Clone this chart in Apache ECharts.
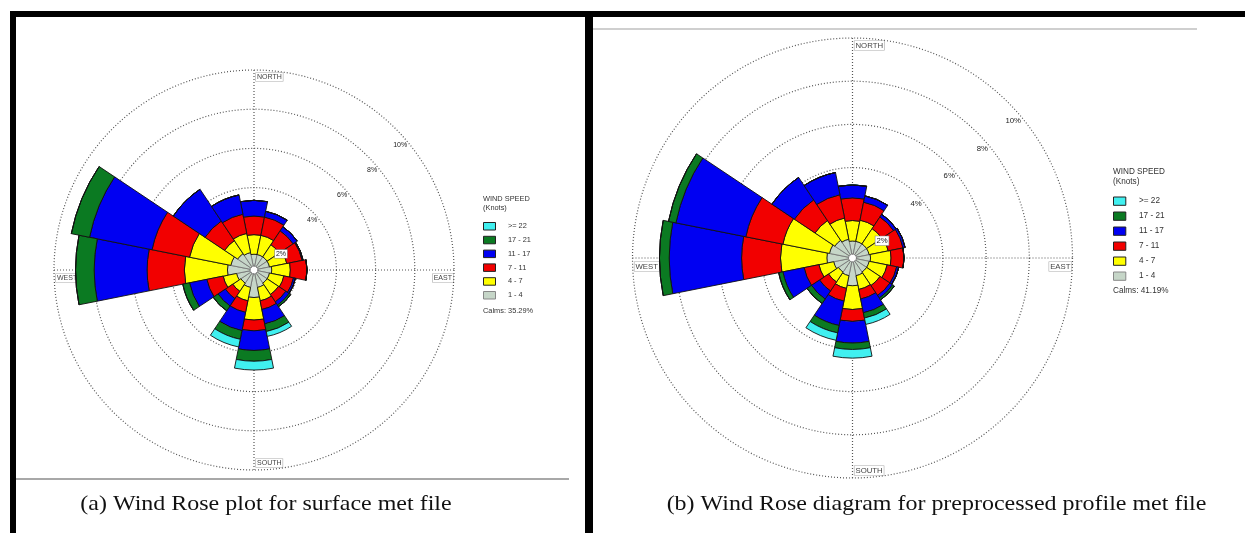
<!DOCTYPE html>
<html>
<head>
<meta charset="utf-8">
<title>Wind Rose</title>
<script src="https://cdn.jsdelivr.net/npm/echarts@6.0.0/dist/echarts.min.js"></script>
<style>
  html, body { margin: 0; padding: 0; background: #fff; }
  #chart { width: 1245px; height: 533px; }
</style>
</head>
<body>
<div id="chart"></div>
<script>
// categories
const directions = ["N", "NNE", "NE", "ENE", "E", "ESE", "SE", "SSE", "S", "SSW", "SW", "WSW", "W", "WNW", "NW", "NNW"];
const speedBins = ["1 - 4", "4 - 7", "7 - 11", "11 - 17", "17 - 21", ">= 22"];
const compassLabels = ["NORTH", "EAST", "SOUTH", "WEST"];
const ringMax = 10;
const ringStep = 2;

// (a) surface met file, frequency (%) per direction and speed class
const surf_1_4   = [0.6, 0.6, 0.6, 0.6, 0.7, 0.6, 0.6, 0.7, 1.2, 0.7, 0.6, 0.7, 1.15, 1.0, 0.8, 0.7];
const surf_4_7   = [1.0, 1.0, 0.75, 0.9, 0.95, 0.75, 0.7, 0.7, 1.15, 0.7, 0.5, 0.7, 2.2, 2.15, 0.8, 1.0];
const surf_7_11  = [0.95, 0.95, 0.85, 0.8, 0.85, 0.5, 0.45, 0.45, 0.55, 0.6, 0.45, 0.85, 1.9, 1.95, 1.2, 1.0];
const surf_11_17 = [0.8, 0.3, 0.25, 0.05, 0, 0.1, 0.2, 0.75, 1.0, 0.95, 0.45, 0.9, 2.7, 3.25, 1.95, 1.0];
const surf_17_21 = [0, 0, 0, 0, 0, 0, 0.1, 0.4, 0.55, 0.45, 0.3, 0.35, 0.95, 0.95, 0, 0];
const surf_22    = [0, 0, 0, 0, 0, 0, 0, 0.25, 0.45, 0.4, 0, 0, 0, 0, 0, 0];
const surfCalms = "35.29%";

// (b) preprocessed profile met file
const prof_1_4   = [0.6, 0.6, 0.6, 0.6, 0.65, 0.6, 0.6, 0.65, 1.1, 0.65, 0.6, 0.7, 1.0, 0.9, 0.8, 0.7];
const prof_4_7   = [0.95, 1.0, 0.85, 0.9, 0.95, 0.85, 0.75, 0.65, 1.1, 0.6, 0.55, 0.7, 2.15, 2.2, 1.1, 1.0];
const prof_7_11  = [1.05, 0.85, 0.65, 0.7, 0.6, 0.45, 0.55, 0.45, 0.55, 0.6, 0.5, 0.7, 1.8, 1.75, 1.15, 1.1];
const prof_11_17 = [0.6, 0.3, 0.15, 0.1, 0, 0.1, 0.15, 0.65, 1.0, 1.15, 0.45, 1.0, 3.35, 3.3, 1.25, 1.05];
const prof_17_21 = [0, 0, 0, 0, 0, 0, 0.1, 0.25, 0.3, 0.35, 0.25, 0.2, 0.45, 0.35, 0, 0];
const prof_22    = [0, 0, 0, 0, 0, 0, 0, 0.3, 0.4, 0.35, 0, 0, 0, 0, 0, 0];
const profCalms = "41.19%";

const binColors = ["#c6d6c8", "#ffff00", "#f20000", "#0000f2", "#0b7a22", "#40f0f0"];
const binBorders = ["#777", "#111", "#111", "#111", "#111", "#111"];

const A = { cx: 254, cy: 270, r: 200, font: 7.4, legendX: 483, legendY: 222, rowGap: 5.3, box: [12, 7.5], titleY: 199, calmsY: 311 };
const B = { cx: 852.5, cy: 258, r: 220, font: 8.2, legendX: 1113, legendY: 196.5, rowGap: 5.7, box: [12.3, 8.3], titleY: 172, calmsY: 291 };

const dotted = { color: "#555", width: 1.2, type: [1, 2] };

function polars(L) {
  return [0, 1, 2].map(() => ({ center: [L.cx, L.cy], radius: [4, L.r] }));
}

function angleAxes(L, base) {
  return [
    // wind direction sectors, north on top
    {
      polarIndex: base, type: "category", data: directions, startAngle: 90 + 11.25,
      clockwise: true, boundaryGap: true,
      axisLine: { show: false }, axisTick: { show: false }, axisLabel: { show: false }, splitLine: { show: false },
    },
    // N-S / E-W cross
    {
      polarIndex: base + 1, type: "value", min: 0, max: 360, interval: 90, startAngle: 90,
      axisLine: { show: false }, axisTick: { show: false }, axisLabel: { show: false },
      splitLine: { show: true, lineStyle: dotted },
    },
    { polarIndex: base + 2, type: "value", min: 0, max: 360, startAngle: 40, show: false },
  ];
}

function radiusAxes(L, base) {
  const fs = L.font * 0.95;
  return [
    {
      polarIndex: base, type: "value", min: 0, max: ringMax, interval: ringStep,
      axisLine: { show: false }, axisTick: { show: false }, axisLabel: { show: false },
      splitLine: { show: true, lineStyle: dotted },
    },
    { polarIndex: base + 1, type: "value", min: 0, max: ringMax, show: false },
    {
      polarIndex: base + 2, type: "value", min: 0, max: ringMax, interval: ringStep, z: 10,
      axisLine: { show: false }, axisTick: { show: false }, splitLine: { show: false },
      axisLabel: {
        margin: 0, align: "right", verticalAlign: "top",
        fontFamily: "Liberation Sans", fontSize: fs, color: "#222",
        // the innermost label sits a little lower, boxed, over the bars
        formatter: (v) => (v === 0 ? "" : v === ringStep ? "{sp| }\n{box|" + v + "%}" : v + "%"),
        rich: {
          sp: { fontSize: 1, lineHeight: fs * 1.1 },
          box: {
            fontFamily: "Liberation Sans", fontSize: fs, color: "#222",
            backgroundColor: "#fff", borderColor: "#888", borderWidth: 0.6, padding: [1, 1, 0, 1],
          },
        },
      },
    },
  ];
}

function roseSeries(polarIndex, stack, bins) {
  return bins.map((vals, k) => ({
    name: speedBins[k],
    type: "bar",
    coordinateSystem: "polar",
    polarIndex: polarIndex,
    stack: stack,
    barCategoryGap: "0%",
    data: vals,
    itemStyle: { color: binColors[k], borderColor: binBorders[k], borderWidth: 0.9 },
    emphasis: { disabled: true },
  }));
}

function legendFor(L) {
  return {
    orient: "vertical",
    left: L.legendX,
    top: L.legendY,
    padding: 0,
    itemWidth: L.box[0],
    itemHeight: L.box[1],
    itemGap: L.rowGap,
    selectedMode: false,
    icon: "rect",
    textStyle: { fontFamily: "Liberation Sans", fontSize: L.font, color: "#333", padding: [0, 0, 0, L.font] },
    data: speedBins.slice().reverse().map((n) => ({
      name: n,
      itemStyle: { borderColor: n === "1 - 4" ? "#888" : "#222", borderWidth: 1 },
    })),
  };
}

function compassText(L) {
  const base = {
    fill: "#444", font: L.font * 0.95 + "px 'Liberation Sans'",
    backgroundColor: "#fff", borderColor: "#aaa", borderWidth: 0.6, padding: [1, 1, 0, 1],
  };
  return [
    { type: "text", x: L.cx + 2, y: L.cy - L.r + 3, style: Object.assign({ text: compassLabels[0], textAlign: "left", textVerticalAlign: "top" }, base) },
    { type: "text", x: L.cx + L.r - 1, y: L.cy + 4, style: Object.assign({ text: compassLabels[1], textAlign: "right", textVerticalAlign: "top" }, base) },
    { type: "text", x: L.cx + 2, y: L.cy + L.r - 3, style: Object.assign({ text: compassLabels[2], textAlign: "left", textVerticalAlign: "bottom" }, base) },
    { type: "text", x: L.cx - L.r + 2, y: L.cy + 4, style: Object.assign({ text: compassLabels[3], textAlign: "left", textVerticalAlign: "top" }, base) },
  ];
}

function legendTexts(L, calms) {
  const st = (t) => ({ text: t, fill: "#333", font: L.font + "px 'Liberation Sans'", textVerticalAlign: "middle" });
  return [
    { type: "text", x: L.legendX, y: L.titleY, style: st("WIND SPEED") },
    { type: "text", x: L.legendX, y: L.titleY + L.font * 1.15, style: st("(Knots)") },
    { type: "text", x: L.legendX, y: L.calmsY, style: st("Calms: " + calms) },
  ];
}

const frame = [
  { type: "rect", shape: { x: 10, y: 11, width: 1235, height: 6 }, style: { fill: "#000" } },
  { type: "rect", shape: { x: 10, y: 11, width: 6, height: 522 }, style: { fill: "#000" } },
  { type: "rect", shape: { x: 585, y: 11, width: 8, height: 522 }, style: { fill: "#000" } },
  { type: "rect", shape: { x: 16, y: 478, width: 553, height: 2 }, style: { fill: "#a8a8a8" } },
  { type: "rect", shape: { x: 593, y: 28, width: 604, height: 2 }, style: { fill: "#cfcfcf" } },
];

const captionStyle = { fill: "#111", font: "22px 'Liberation Serif'", textAlign: "center", textVerticalAlign: "middle" };
const captions = [
  { type: "text", x: 266, y: 504, scaleX: 1.09, style: Object.assign({ text: "(a) Wind Rose plot for surface met file" }, captionStyle) },
  { type: "text", x: 936.5, y: 504, scaleX: 1.09, style: Object.assign({ text: "(b) Wind Rose diagram for preprocessed profile met file" }, captionStyle) },
];

const myChart = echarts.init(document.getElementById("chart"), null, { renderer: "canvas" });

const option = {
  backgroundColor: "#fff",
  animation: false,
  polar: polars(A).concat(polars(B)),
  angleAxis: angleAxes(A, 0).concat(angleAxes(B, 3)),
  radiusAxis: radiusAxes(A, 0).concat(radiusAxes(B, 3)),
  legend: [legendFor(A), legendFor(B)],
  series: roseSeries(0, "surface", [surf_1_4, surf_4_7, surf_7_11, surf_11_17, surf_17_21, surf_22])
    .concat(roseSeries(3, "profile", [prof_1_4, prof_4_7, prof_7_11, prof_11_17, prof_17_21, prof_22])),
  graphic: frame
    .concat(captions)
    .concat(compassText(A), compassText(B))
    .concat(legendTexts(A, surfCalms), legendTexts(B, profCalms)),
};

myChart.setOption(option);
</script>
</body>
</html>
